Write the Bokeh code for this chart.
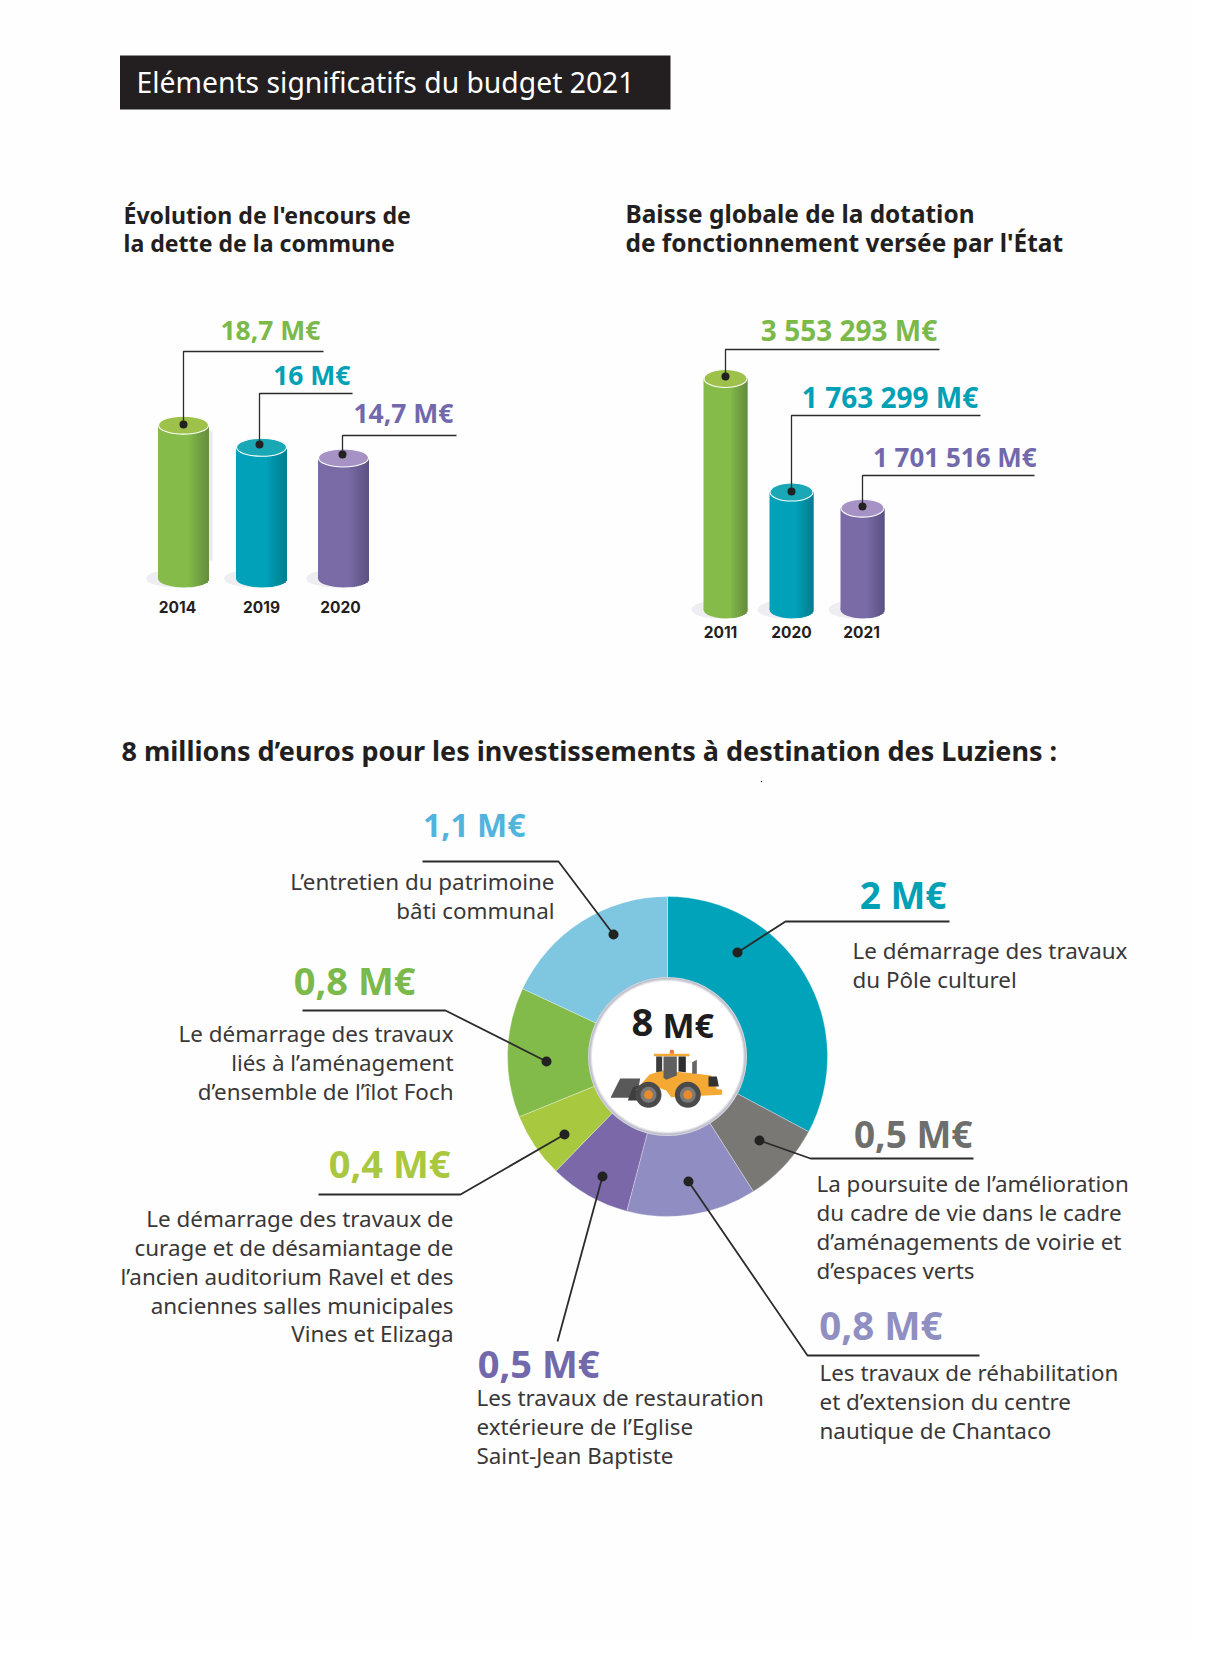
import math
from bokeh.core.properties import value
from bokeh.embed import file_html
from bokeh.models import ColumnDataSource, Range1d
from bokeh.plotting import figure
from bokeh.resources import INLINE

# ---- data ----
banner_title = "Eléments significatifs du budget 2021"
debt_title = ["Évolution de l'encours de", "la dette de la commune"]
debt_years = ["2014", "2019", "2020"]
debt_values = [18.7, 16.0, 14.7]
debt_labels = ["18,7 M€", "16 M€", "14,7 M€"]

grant_title = ["Baisse globale de la dotation", "de fonctionnement versée par l'État"]
grant_years = ["2011", "2020", "2021"]
grant_labels = ["3 553 293  M€", "1 763 299  M€", "1 701 516  M€"]
# bar heights as they are drawn in the picture (the picture is not strictly to scale with its labels)
grant_drawn = [3553293, 1807000, 1560000]

invest_title = "8 millions d’euros pour les investissements à destination des Luziens :"
invest_values = [2.0, 0.5, 0.8, 0.5, 0.4, 0.8, 1.1]
invest_labels = ["2 M€", "0,5 M€", "0,8 M€", "0,5 M€", "0,4 M€", "0,8 M€", "1,1 M€"]
invest_texts = [
    ["Le démarrage des travaux", "du Pôle culturel"],
    ["La poursuite de l’amélioration", "du cadre de vie dans le cadre", "d’aménagements de voirie et", "d’espaces verts"],
    ["Les travaux de réhabilitation", "et d’extension du centre", "nautique de Chantaco"],
    ["Les travaux de restauration", "extérieure de l’Eglise", "Saint-Jean Baptiste"],
    ["Le démarrage des travaux de", "curage et de désamiantage de", "l’ancien auditorium Ravel et des", "anciennes salles municipales", "Vines et Elizaga"],
    ["Le démarrage des travaux", "liés à l’aménagement", "d’ensemble de l’îlot Foch"],
    ["L’entretien du patrimoine", "bâti communal"],
]

# ---- styles & layout (page pixels) ----
W, H = 1192, 1639
BODY_FONT = "Noto Sans"
HEAD_FONT = "Noto Sans"
INK = "#231f20"
BASELINE_FIX = 0.47
BAR_FILL = [("#85bb49", "#668f3e", "#9dc14a"), ("#00a1b9", "#007f90", "#1aa8b6"), ("#7a6ba6", "#5d5283", "#a692c4")]
SLICE = ["#00a3ba", "#797874", "#8f8dc1", "#7a68a9", "#a8c93f", "#82bb4a", "#7fc6e1"]
LABEL = ["#00a0b5", "#6e6e6c", "#908fc2", "#7268ac", "#a9c83f", "#7bb94b", "#52b4dc"]

p = figure(width=W, height=H, output_backend="svg", toolbar_location=None,
           x_range=Range1d(0, W), y_range=Range1d(H, 0),
           background_fill_color="#fefefe", border_fill_color="#fefefe",
           min_border=0, outline_line_color=None)
p.axis.visible = False
p.grid.visible = False


def scale_range(base_px, px_per_unit):
    return Range1d((base_px - H) / px_per_unit, base_px / px_per_unit)


DEBT_K, GRANT_K = 8.2, 231 / 3553293
DEBT_BASE, GRANT_BASE = 578, 609
p.extra_y_ranges = {"debt": scale_range(DEBT_BASE, DEBT_K), "grant": scale_range(GRANT_BASE, GRANT_K)}


def txt(x, y, s, size, color=INK, font=HEAD_FONT, style="normal", align="left"):
    p.text([x], [y - BASELINE_FIX * size], text=[s], text_font=value(font), text_font_size=f"{size}px",
           text_font_style=style, text_color=color, text_align=align, text_baseline="alphabetic")


def mix(a, b, t):
    ca = [int(a[i:i + 2], 16) for i in (1, 3, 5)]
    cb = [int(b[i:i + 2], 16) for i in (1, 3, 5)]
    return "#%02x%02x%02x" % tuple(round(u + (v - u) * t) for u, v in zip(ca, cb))


def cylinders(vals, range_name, k, centers, bw, eh):
    for i, (v, cx) in enumerate(zip(vals, centers)):
        base, dark, top = BAR_FILL[i]
        # soft floor shadow
        p.ellipse([cx - 8], [0], width=bw + 8, height=eh, width_units="screen", height_units="screen",
                  fill_color="#eeeef2", line_color=None, y_range_name=range_name)
        p.ellipse([cx], [0], width=bw, height=eh, width_units="screen", height_units="screen",
                  fill_color=base, line_color=None, y_range_name=range_name)
        p.vbar([cx], width=bw, bottom=[0], top=[v], fill_color=base, line_color=None, y_range_name=range_name)
        n = 9
        x0 = cx + bw * 0.12
        sw = (cx + bw / 2 - x0) / n
        for j in range(n):
            dx = x0 + (j + .5) * sw - cx
            t = ((j + 1) / n) ** 0.9
            low = -math.sqrt(max(0, 1 - (dx / (bw / 2)) ** 2)) * (eh / 2) / k
            p.vbar([cx + dx + (0.5 if j < n - 1 else 0)], width=sw + (1 if j < n - 1 else 0), bottom=[low], top=[v],
                   fill_color=mix(base, dark, t), line_color=None, y_range_name=range_name)
        p.ellipse([cx], [v], width=bw - 1, height=eh, width_units="screen", height_units="screen",
                  fill_color=top, line_color="#ffffff", line_width=1.1, y_range_name=range_name)


def leader(xs, ys, width=1.3, dot=8):
    p.line(xs, ys, line_color="#2b2b2b", line_width=width)
    p.scatter([xs[-1]], [ys[-1]], size=dot, fill_color="#222222", line_color=None)


# ---- banner & headings ----
p.quad(left=[119.5], right=[673 - 3], top=[55], bottom=[109], fill_color=INK, line_color=None)
txt(136, 95, banner_title, 28.3, "#ffffff")
for i, line in enumerate(debt_title):
    txt(123, 225 + 28.6 * i, line, 23.1, INK, HEAD_FONT, "bold")
for i, line in enumerate(grant_title):
    txt(625, 224.5 + 29 * i, line, 24.4, INK, HEAD_FONT, "bold")
txt(121, 762.5, invest_title, 27, INK, HEAD_FONT, "bold")

# ---- debt cylinders ----
DEBT_X = [183, 261, 343]
p.quad(left=[208], right=[212], top=[430], bottom=[560], fill_color="#e9e9f0", line_color=None)
cylinders(debt_values, "debt", DEBT_K, DEBT_X, 51, 18)
DEBT_LEAD = [(183, 351, 323, 424), (259, 393, 352, 444), (342, 435, 456, 454)]
DEBT_LAB = [(320, 342), (350, 387), (453, 425)]
for (ax, ay, ex, dy), (lx, ly), s, i in zip(DEBT_LEAD, DEBT_LAB, debt_labels, range(3)):
    leader([ex, ax, ax], [ay, ay, dy])
    txt(lx, ly, s, 26.5, LABEL[[5, 0, 3][i]], HEAD_FONT, "bold", "right")
for cx, s in zip([177, 261, 340], debt_years):
    txt(cx, 614, s, 15.5, INK, "Inter", "bold", "center")

# ---- grant cylinders ----
GRANT_X = [725, 791, 862]
cylinders(grant_drawn, "grant", GRANT_K, GRANT_X, 44, 18)
GRANT_LEAD = [(725, 349, 939, 376), (791, 415, 980, 491), (862, 475, 1034, 506)]
GRANT_LAB = [(944, 343, 28), (985, 410, 28), (1043, 469, 26)]
for (ax, ay, ex, dy), (lx, ly, ls), s, i in zip(GRANT_LEAD, GRANT_LAB, grant_labels, range(3)):
    leader([ex, ax, ax], [ay, ay, dy])
    txt(lx, ly, s, ls, LABEL[[5, 0, 3][i]], HEAD_FONT, "bold", "right")
for cx, s in zip([720, 791, 861], grant_years):
    txt(cx, 639, s, 15.5, INK, "Inter", "bold", "center")

# ---- donut ----
CX, CY = 667, 1056
total = sum(invest_values)
starts, ends, run = [], [], 0.0
for v in invest_values:
    a0 = run / total * 2 * math.pi
    run += v
    a1 = run / total * 2 * math.pi
    starts.append(math.pi / 2 - a0)
    ends.append(math.pi / 2 - a1)
src = ColumnDataSource(dict(x=[CX] * 7, y=[CY] * 7, start=starts, end=ends, color=SLICE))
p.annular_wedge("x", "y", inner_radius=66, outer_radius=160, inner_radius_units="screen", outer_radius_units="screen",
                start_angle="start", end_angle="end", direction="clock", fill_color="color",
                line_color="#ffffff", line_width=0.5, line_alpha=0.6, source=src)
for r, c in [(79.5, "#d5d5dd"), (78.5, "#bcbdc8"), (77.5, "#cfcfd8"), (76.5, "#e8e8ee")]:
    p.circle([CX], [CY], radius=r, radius_units="screen", fill_color=c, line_color=None)
p.circle([CX], [CY], radius=75.5, radius_units="screen", fill_color="#ffffff", line_color=None)

txt(631, 1040, "8", 38, "#1f1c1d", HEAD_FONT, "bold")
txt(662, 1040, "M€", 34, "#1f1c1d", HEAD_FONT, "bold")


# loader icon, drawn in its own small grid
def icon(pts, color):
    p.patch([599 + a / 3 for a, _ in pts], [990 + b / 3 for _, b in pts], fill_color=color, line_color=None)


icon([(33, 322), (62, 264), (122, 264), (112, 322)], "#595959")
icon([(85, 330), (100, 290), (135, 280), (130, 330)], "#3f3f3f")
icon([(108, 300), (150, 252), (190, 240), (278, 248), (335, 255), (352, 296), (368, 297), (368, 313), (215, 320), (200, 300), (160, 285), (125, 290)], "#f5a935")
icon([(163, 190), (270, 190), (270, 197), (163, 197)], "#f5a935")
icon([(212, 178), (222, 178), (224, 190), (210, 190)], "#e87a3c")
icon([(170, 198), (188, 198), (188, 242), (170, 245)], "#3c3c3c")
icon([(192, 198), (232, 198), (232, 255), (200, 268), (192, 262)], "#5f5f5f")
icon([(237, 198), (259, 198), (259, 245), (237, 243)], "#2e2e2e")
icon([(278, 215), (292, 208), (292, 250), (278, 250)], "#666666")
icon([(327, 258), (352, 258), (358, 288), (327, 288)], "#333333")
for wx in (147, 265):
    p.circle([599 + wx / 3], [990 + 313 / 3], radius=13, radius_units="screen", fill_color="#4a4a4a", line_color=None)
    p.circle([599 + wx / 3], [990 + 313 / 3], radius=8, radius_units="screen", fill_color="#7a7a7a", line_color=None)
    p.circle([599 + wx / 3], [990 + 313 / 3], radius=4.5, radius_units="screen", fill_color="#ea8a2b", line_color=None)

# leaders: polylines ending on a dot placed on the slice
INV_LEAD = [
    [(949, 921), (785, 921), (737, 952)],
    [(973, 1158), (810, 1158), (759, 1140)],
    [(979, 1355), (807, 1355), (688, 1181)],
    [(557, 1341), (602, 1176)],
    [(318, 1194), (460, 1194), (564, 1134)],
    [(302, 1010), (445, 1010), (546, 1061)],
    [(422, 861), (558, 861), (613, 934)],
]
for pts in INV_LEAD:
    leader([a for a, _ in pts], [b for _, b in pts], 1.8, 10)

# value anchor x, value baseline, value size, text x, text align, text first baseline
INV_TXT = [
    (946, 911, 37, 852, "left", 961),
    (972, 1150, 37, 816, "left", 1194),
    (942, 1343, 38.5, 819, "left", 1383),
    (599, 1380, 38, 476, "left", 1408),
    (450, 1180, 38, 453, "right", 1229),
    (415, 997, 38, 453, "right", 1044),
    (525, 839, 32, 554, "right", 892),
]
for i, (lx, ly, ls, tx, ta, ty) in enumerate(INV_TXT):
    txt(lx, ly, invest_labels[i], ls, LABEL[i], HEAD_FONT, "bold", "right")
    for j, line in enumerate(invest_texts[i]):
        txt(tx, ty + 28.7 * j, line, 22.4, "#3a3738", BODY_FONT, "normal", ta)

p.scatter([761], [781], size=1.5, fill_color="#333333", line_color=None)

open("out.html", "w").write(file_html(p, INLINE))
